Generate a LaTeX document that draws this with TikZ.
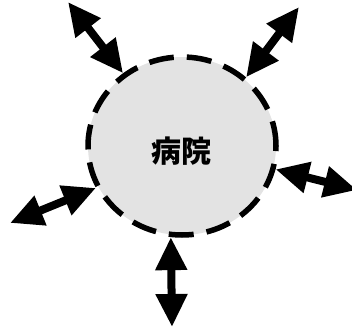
\documentclass[tikz,border=0pt]{standalone}
\usepackage{fontspec}
\newfontfamily\cjk{Noto Sans CJK JP}
\usetikzlibrary{shapes.geometric,arrows.meta}
\tikzset{
  hospital/.style={ellipse, draw=black, line width=5.5pt, dash pattern=on 25pt off 13pt,
    fill=black!11, minimum width=188pt, minimum height=178pt, inner sep=0pt},
  biarrow/.style={line width=8pt, {Triangle[length=33pt,width=30pt]}-{Triangle[length=33pt,width=30pt]}},
  lbl/.style={font=\cjk\bfseries\fontsize{30}{34}\selectfont, inner sep=0pt}
}
\begin{document}
\begin{tikzpicture}[x=1pt,y=-1pt]
\useasboundingbox (0,0) rectangle (352,328);
\node[hospital] (hosp) at (182,146) {};
\node[lbl] (name) at (181,151) {病院};
\coordinate (o1) at (68,2);
\coordinate (o2) at (299,7);
\coordinate (o3) at (357,190);
\coordinate (o4) at (172,327);
\coordinate (o5) at (10,223);
\draw[biarrow] (hosp.129) -- (o1);
\draw[biarrow] (hosp.47) -- (o2);
\draw[biarrow] (hosp.-14) -- (o3);
\draw[biarrow] (hosp.-97) -- (o4);
\draw[biarrow] (hosp.206) -- (o5);
\end{tikzpicture}
\end{document}
